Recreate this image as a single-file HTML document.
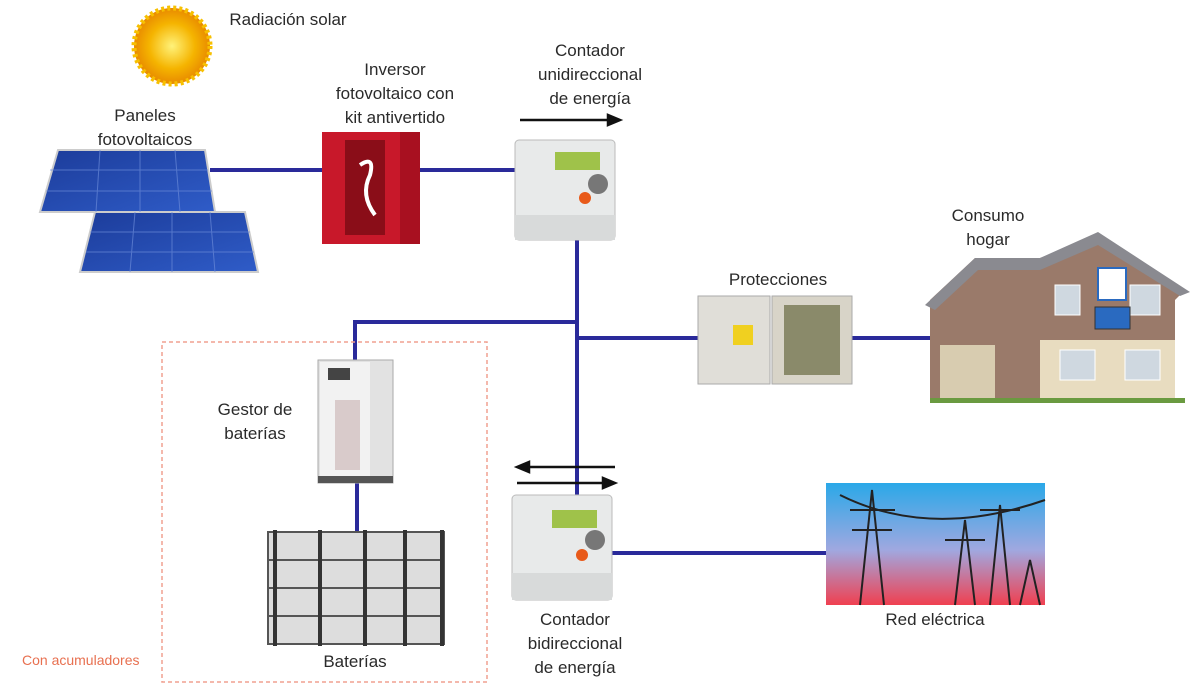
<!DOCTYPE html>
<html><head><meta charset="utf-8"><style>
body{margin:0;width:1200px;height:700px;background:#fff;position:relative;overflow:hidden;font-family:"Liberation Sans",sans-serif;color:#2a2a2a}
.t{position:absolute;font-size:17px;text-align:center;line-height:24px;transform:translateX(-50%);white-space:nowrap}
.a{position:absolute}
</style></head><body>
<svg class="a" style="left:0;top:0" width="1200" height="700">
<defs>
<radialGradient id="sun" cx="50%" cy="50%" r="50%"><stop offset="0" stop-color="#fff27a"/><stop offset=".6" stop-color="#f5b400"/><stop offset="1" stop-color="#e88a00"/></radialGradient>
<linearGradient id="grid" x1="0" y1="0" x2="0" y2="1"><stop offset="0" stop-color="#2aa8e8"/><stop offset=".55" stop-color="#a0a8e0"/><stop offset="1" stop-color="#f04050"/></linearGradient>
<linearGradient id="pv" x1="0" y1="0" x2="1" y2="1"><stop offset="0" stop-color="#1c3c9a"/><stop offset="1" stop-color="#2f5cc8"/></linearGradient>
</defs>
<circle cx="172" cy="46" r="38" fill="url(#sun)" stroke="#f7c000" stroke-width="5" stroke-dasharray="3 3"/>
<g stroke="#2a2a9a" stroke-width="4" fill="none">
<line x1="210" y1="170" x2="325" y2="170"/>
<line x1="420" y1="170" x2="515" y2="170"/>
<line x1="577" y1="240" x2="577" y2="495"/>
<polyline points="577,322 355,322 355,362"/>
<line x1="577" y1="338" x2="700" y2="338"/>
<line x1="852" y1="338" x2="935" y2="338"/>
<line x1="357" y1="483" x2="357" y2="532"/>
<line x1="612" y1="553" x2="828" y2="553"/>
</g>
<polygon points="58,150 205,150 215,212 40,212" fill="url(#pv)" stroke="#ccc" stroke-width="2"/>
<polygon points="95,212 245,212 258,272 80,272" fill="url(#pv)" stroke="#ccc" stroke-width="2"/>
<g stroke="#6a8ad8" stroke-width="1" opacity=".7">
<line x1="50" y1="170" x2="208" y2="170"/><line x1="46" y1="191" x2="212" y2="191"/>
<line x1="90" y1="232" x2="250" y2="232"/><line x1="86" y1="252" x2="254" y2="252"/>
<line x1="100" y1="150" x2="96" y2="212"/><line x1="140" y1="150" x2="140" y2="212"/><line x1="175" y1="150" x2="180" y2="212"/>
<line x1="135" y1="212" x2="130" y2="272"/><line x1="172" y1="212" x2="172" y2="272"/><line x1="210" y1="212" x2="215" y2="272"/>
</g>
<rect x="322" y="132" width="98" height="112" fill="#c8182a"/>
<rect x="400" y="132" width="20" height="112" fill="#a81020"/>
<rect x="345" y="140" width="40" height="95" fill="#8a0d18"/>
<path d="M360 165 q15 -10 10 10 q-10 20 5 40" stroke="#fff" stroke-width="4" fill="none"/>
<g stroke="#111" stroke-width="2.5" fill="#111">
<line x1="520" y1="120" x2="612" y2="120"/><polygon points="620,120 608,115 608,125"/>
<line x1="525" y1="467" x2="615" y2="467"/><polygon points="517,467 529,462 529,472"/>
<line x1="517" y1="483" x2="607" y2="483"/><polygon points="615,483 603,478 603,488"/>
</g>
<rect x="515" y="140" width="100" height="100" rx="4" fill="#e8eaea" stroke="#bbb"/>
<rect x="555" y="152" width="45" height="18" fill="#9fc24a"/>
<circle cx="598" cy="184" r="10" fill="#777"/><circle cx="585" cy="198" r="6" fill="#e85a1a"/>
<rect x="515" y="215" width="100" height="25" fill="#d8dada"/>
<rect x="512" y="495" width="100" height="105" rx="4" fill="#e8eaea" stroke="#bbb"/>
<rect x="552" y="510" width="45" height="18" fill="#9fc24a"/>
<circle cx="595" cy="540" r="10" fill="#777"/><circle cx="582" cy="555" r="6" fill="#e85a1a"/>
<rect x="512" y="573" width="100" height="27" fill="#d8dada"/>
<rect x="698" y="296" width="72" height="88" fill="#e0ded8" stroke="#aaa"/>
<rect x="733" y="325" width="20" height="20" fill="#f0d020"/>
<rect x="772" y="296" width="80" height="88" fill="#d8d4c8" stroke="#aaa"/>
<rect x="784" y="305" width="56" height="70" fill="#8a8a6a"/>
<polygon points="930,300 975,258 1040,258 1100,235 1185,290 1175,300 1175,402 930,402" fill="#9a7a6a"/>
<polygon points="925,305 975,258 1040,258 1098,232 1190,292 1180,296 1098,245 1040,270 978,270 935,310" fill="#8a8a90"/>
<rect x="1040" y="340" width="135" height="62" fill="#e8dcc0"/>
<rect x="940" y="345" width="55" height="57" fill="#d8ccb0"/>
<rect x="1055" y="285" width="25" height="30" fill="#cfd8e0" stroke="#fff"/>
<rect x="1130" y="285" width="30" height="30" fill="#cfd8e0" stroke="#fff"/>
<rect x="1060" y="350" width="35" height="30" fill="#cfd8e0" stroke="#fff"/>
<rect x="1125" y="350" width="35" height="30" fill="#cfd8e0" stroke="#fff"/>
<rect x="1098" y="268" width="28" height="32" fill="#fff" stroke="#2a6ac0" stroke-width="2"/>
<rect x="1095" y="307" width="35" height="22" fill="#2a6ac0" stroke="#333"/>
<rect x="930" y="398" width="255" height="5" fill="#6a9a40"/>
<rect x="162" y="342" width="325" height="340" fill="none" stroke="#f0a090" stroke-width="1.5" stroke-dasharray="4 3"/>
<rect x="318" y="360" width="75" height="123" fill="#e2e2e2" stroke="#aaa"/>
<rect x="320" y="362" width="50" height="118" fill="#f2f2f2"/>
<rect x="328" y="368" width="22" height="12" fill="#444"/>
<rect x="335" y="400" width="25" height="70" fill="#c8b0b0" opacity=".6"/>
<rect x="318" y="476" width="75" height="7" fill="#555"/>
<g fill="#ddd" stroke="#555" stroke-width="2">
<rect x="268" y="532" width="176" height="28"/><rect x="268" y="560" width="176" height="28"/>
<rect x="268" y="588" width="176" height="28"/><rect x="268" y="616" width="176" height="28"/>
</g>
<g stroke="#333" stroke-width="4"><line x1="275" y1="530" x2="275" y2="646"/><line x1="320" y1="530" x2="320" y2="646"/><line x1="365" y1="530" x2="365" y2="646"/><line x1="405" y1="530" x2="405" y2="646"/><line x1="442" y1="530" x2="442" y2="646"/></g>
<rect x="826" y="483" width="219" height="122" fill="url(#grid)"/>
<g stroke="#222" stroke-width="2" fill="none">
<path d="M860 605 L872 490 L884 605 M850 510 L895 510 M852 530 L892 530"/>
<path d="M955 605 L965 520 L975 605 M945 540 L985 540"/>
<path d="M990 605 L1000 505 L1010 605 M980 510 L1020 510"/>
<path d="M1020 605 L1030 560 L1040 605"/>
<path d="M840 495 Q930 540 1045 500"/>
</g>
</svg>
<div class="t" style="left:288px;top:8px">Radiación solar</div>
<div class="t" style="left:145px;top:104px">Paneles<br>fotovoltaicos</div>
<div class="t" style="left:395px;top:58px">Inversor<br>fotovoltaico con<br>kit antivertido</div>
<div class="t" style="left:590px;top:39px">Contador<br>unidireccional<br>de energía</div>
<div class="t" style="left:778px;top:268px">Protecciones</div>
<div class="t" style="left:988px;top:204px">Consumo<br>hogar</div>
<div class="t" style="left:255px;top:398px">Gestor de<br>baterías</div>
<div class="t" style="left:355px;top:650px">Baterías</div>
<div class="t" style="left:575px;top:608px">Contador<br>bidireccional<br>de energía</div>
<div class="t" style="left:935px;top:608px">Red eléctrica</div>
<div class="a" style="left:22px;top:652px;font-size:14px;color:#e87050">Con acumuladores</div>
</body></html>
